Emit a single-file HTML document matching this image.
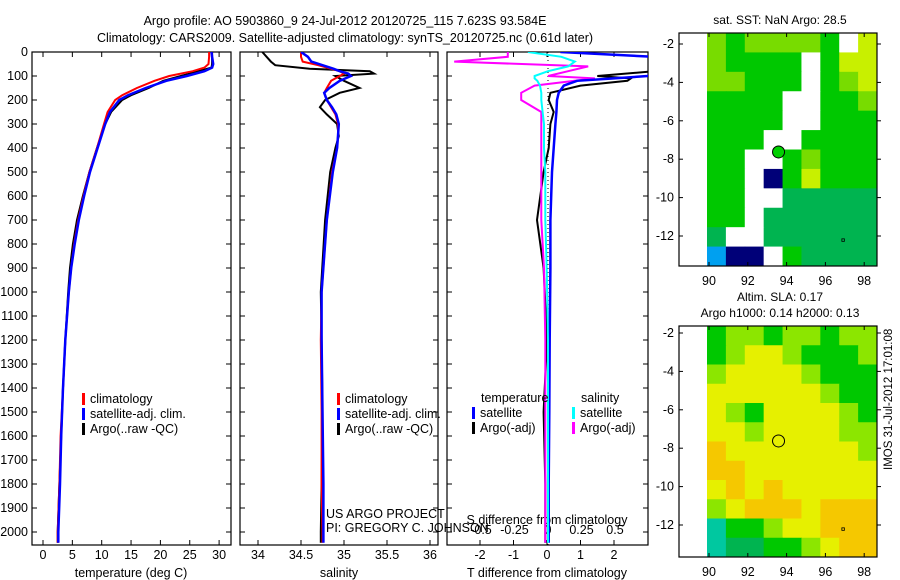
<!DOCTYPE html>
<html><head><meta charset="utf-8"><style>
body{margin:0;background:#fff;}
svg{display:block;font-family:"Liberation Sans",sans-serif;}
text{font-size:12.5px;fill:#000;}
</style></head><body>
<svg id="fig" width="900" height="580" viewBox="0 0 900 580">
<text x="345" y="25" text-anchor="middle">Argo profile: AO 5903860_9 24-Jul-2012 20120725_115 7.623S 93.584E</text>
<text x="345" y="42" text-anchor="middle">Climatology: CARS2009. Satellite-adjusted climatology: synTS_20120725.nc (0.61d later)</text>
<g id="p1"></g>
<g id="p2"></g>
<g id="p3"></g>
<g id="m1"></g>
<g id="m2"></g>
<text x="892" y="470" transform="rotate(-90 892 470)" style="font-size:11.5px">IMOS 31-Jul-2012 17:01:08</text>
</svg>
<script>
// ---- data ----
const tDepth=[0,20,50,65,80,100,120,150,180,200,250,300,400,500,600,700,800,900,1000,1200,1400,1600,1800,2000,2045];
const tClim=[28.3,28.3,28.2,27.5,25.5,21.5,19,16,13.5,12.3,11,10.4,9.2,7.9,6.9,6,5.3,4.8,4.4,3.8,3.4,3.0,2.8,2.5,2.5];
const tSat=[28.7,28.8,29,28.8,27.5,24.5,21,17.5,14.5,13,11.4,10.6,9.3,8,7,6.1,5.4,4.8,4.4,3.8,3.4,3.1,2.9,2.6,2.6];
const tArgo=[28.8,28.8,28.8,28.7,26.5,23.5,20.5,18,15,13.5,11.6,10.6,9.2,7.9,6.8,5.8,5.1,4.6,4.3,3.8,3.4,3.1,2.8,2.5,2.5];
const sDepth=[0,20,40,55,70,80,90,100,120,150,170,200,230,260,300,350,400,500,700,1000,1200,1500,1800,2000,2045];
const sClim=[34.5,34.5,34.52,34.7,34.85,34.95,35.0,34.95,34.85,34.8,34.77,34.8,34.85,34.9,34.93,34.93,34.92,34.86,34.8,34.74,34.73,34.74,34.74,34.75,34.75];
const sSat=[34.5,34.58,34.62,34.75,34.88,34.95,35.05,35.08,34.95,34.83,34.77,34.8,34.86,34.91,34.94,34.93,34.92,34.87,34.8,34.74,34.74,34.75,34.76,34.76,34.76];
const sArgo=[34.05,34.1,34.15,34.2,34.6,35.3,35.35,34.9,35.0,35.18,34.95,34.78,34.72,34.8,34.92,34.94,34.9,34.84,34.78,34.73,34.74,34.75,34.74,34.73,34.73];
const dDepth=[0,20,40,60,80,100,110,120,140,170,200,250,300,400,500,700,900,1200,1500,1800,2045];
const dTsat=[0.4,3.2,3.2,3.2,3.2,3.0,2.0,0.9,0.5,0.35,0.3,0.28,0.25,0.2,0.15,0.1,0.1,0.08,0.07,0.05,0.05];
const dTargo=[null,null,null,3.2,3.2,1.5,2.5,2.4,1.0,0.1,0.05,0.2,0.1,0.05,-0.1,-0.3,-0.1,0.0,-0.1,-0.05,-0.05];
const dSsat=[-0.15,0.1,0.2,0.15,0.0,-0.1,-0.1,-0.08,-0.06,-0.05,-0.05,-0.04,-0.03,-0.03,-0.02,-0.02,-0.01,0.0,0.0,0.0,0.0];
const dSargo=[-0.3,-0.3,-0.7,0.3,0.15,0.0,0.35,0.2,-0.1,-0.2,-0.2,-0.05,-0.05,-0.05,-0.05,-0.05,-0.03,-0.02,-0.02,-0.02,-0.02];
const depthTicks=[0,100,200,300,400,500,600,700,800,900,1000,1100,1200,1300,1400,1500,1600,1700,1800,1900,2000];
const tTicks=[0,5,10,15,20,25,30];
const sTicks=[34,34.5,35,35.5,36];
const dTTicks=[-2,-1,0,1,2];
const dSTicks=[-0.5,-0.25,0,0.25,0.5];
const sstGrid=["LGLLLLGWY","LGGGGWGYY","LLGGGWGLY","GGGGWWGGL","GGGGWWGGG","GGGWWGGGG","GGWWGLGGG","GGWNGYGGG","GGWWDDDDD","GGWDDDDDD","DWWDDDDDD","BNNWGDDDD"];
const slaGrid=["GLLGLLGLL","GLYYLGGGL","LYYYYLGGG","YYYYYYLGG","YLGYYYYLG","YYLYYYYLL","OYYYYYYYL","OOYYYYYYY","YOYOYYYYY","LYOOOYOOO","CGGLYYOOO","CDDGGLYOO"];
const lonTicks=[90,92,94,96,98];
const latTicks=[-2,-4,-6,-8,-10,-12];
const argoLon=93.584, argoLat=-7.623;

const NS="http://www.w3.org/2000/svg";
function mk(p,tag,at){const e=document.createElementNS(NS,tag);for(const k in at)e.setAttribute(k,at[k]);p.appendChild(e);return e;}
const Y0=52,Y1=545;
const yD=d=>Y0+d*0.24;

function axesBox(g,x0,x1,left){
  const r=mk(g,'rect',{x:x0,y:Y0,width:x1-x0,height:Y1-Y0,fill:'none',stroke:'#000','stroke-width':1.2});
  
  depthTicks.forEach(d=>{
    mk(g,'line',{x1:x0,x2:x0+5,y1:yD(d),y2:yD(d),stroke:'#000'});
    mk(g,'line',{x1:x1,x2:x1-5,y1:yD(d),y2:yD(d),stroke:'#000'});
    if(left){const t=mk(g,'text',{x:x0-4,y:yD(d)+4,'text-anchor':'end'});t.textContent=d;
      }
  });
}
function xTicks(g,ticks,fx,y){
  ticks.forEach(v=>{mk(g,'line',{x1:fx(v),x2:fx(v),y1:Y1,y2:Y1-5,stroke:'#000'});mk(g,'line',{x1:fx(v),x2:fx(v),y1:Y0,y2:Y0+5,stroke:'#000'});
    const t=mk(g,'text',{x:fx(v),y:y,'text-anchor':'middle'});t.textContent=v;
    });
}
function line(g,xs,ds,fx,col,w,name){
  let p='';let pen=false;
  xs.forEach((v,i)=>{if(v===null){pen=false;return;}p+=(pen?'L':'M')+fx(v).toFixed(1)+','+yD(ds[i]).toFixed(1);pen=true;});
  const e=mk(g,'path',{d:p,fill:'none',stroke:col,'stroke-width':w});
  
}
function clipFor(g,id,x0,x1){const c=mk(g,'clipPath',{id:id});mk(c,'rect',{x:x0,y:Y0,width:x1-x0,height:Y1-Y0});const h=mk(g,'g',{'clip-path':'url(#'+id+')'});return h;}
function legend(g,x,y,items){
  items.forEach((it,i)=>{mk(g,'rect',{x:x,y:y+i*15-10,width:3,height:12,fill:it[1]});
    const t=mk(g,'text',{x:x+8,y:y+i*15});t.textContent=it[0];
    });
}
// panel 1
const p1=document.getElementById('p1');
const fT=v=>43+v*5.87;
axesBox(p1,32,231,true);xTicks(p1,tTicks,fT,559);
let c1=clipFor(p1,'c1',32,231);
line(c1,tArgo,tDepth,fT,'#000',2,'argo-temperature-line');
line(c1,tClim,tDepth,fT,'#f00',2,'climatology-temperature-line');
line(c1,tSat,tDepth,fT,'#00f',2.5,'satellite-temperature-line');
let t=mk(p1,'text',{x:131,y:577,'text-anchor':'middle'});t.textContent='temperature (deg C)';
legend(p1,82,403,[['climatology','#f00'],['satellite-adj. clim.','#00f'],['Argo(..raw -QC)','#000']]);
// panel 2
const p2=document.getElementById('p2');
const fS=v=>258+(v-34)*86;
axesBox(p2,240,438,false);xTicks(p2,sTicks,fS,559);
let c2=clipFor(p2,'c2',240,438);
line(c2,sArgo,sDepth,fS,'#000',2,'argo-salinity-line');
line(c2,sClim,sDepth,fS,'#f00',2,'climatology-salinity-line');
line(c2,sSat,sDepth,fS,'#00f',2.5,'satellite-salinity-line');
t=mk(p2,'text',{x:339,y:577,'text-anchor':'middle'});t.textContent='salinity';
legend(p2,337,403,[['climatology','#f00'],['satellite-adj. clim.','#00f'],['Argo(..raw -QC)','#000']]);
t=mk(p2,'text',{x:326,y:518});t.textContent='US ARGO PROJECT';
t=mk(p2,'text',{x:326,y:532});t.textContent='PI: GREGORY C. JOHNSON';
// panel 3
const p3=document.getElementById('p3');
const fdT=v=>547+v*33.5, fdS=v=>548+v*134;
axesBox(p3,447,648,false);xTicks(p3,dTTicks,fdT,559);
dSTicks.forEach(v=>{const tt=mk(p3,'text',{x:fdS(v),y:534,'text-anchor':'middle'});tt.textContent=v;});
t=mk(p3,'text',{x:547,y:524,'text-anchor':'middle'});t.textContent='S difference from climatology';
mk(p3,'line',{x1:548,x2:548,y1:Y0,y2:Y1,stroke:'#000','stroke-dasharray':'1,3'});
let c3=clipFor(p3,'c3',447,648);
line(c3,dTargo,dDepth,fdT,'#000',2,'argo-t-difference-line');
line(c3,dSargo,dDepth,fdS,'#f0f',2,'argo-s-difference-line');
line(c3,dTsat,dDepth,fdT,'#00f',2.5,'satellite-t-difference-line');
line(c3,dSsat,dDepth,fdS,'#0ff',2,'satellite-s-difference-line');
t=mk(p3,'text',{x:547,y:577,'text-anchor':'middle'});t.textContent='T difference from climatology';
t=mk(p3,'text',{x:481,y:402});t.textContent='temperature';
t=mk(p3,'text',{x:581,y:402});t.textContent='salinity';
legend(p3,472,417,[['satellite','#00f'],['Argo(-adj)','#000']]);
legend(p3,572,417,[['satellite','#0ff'],['Argo(-adj)','#f0f']]);
// maps
const cols={G:'#00c800',D:'#00b450',L:'#78dc00',Y:'#c8f000',W:'#fff',N:'#000078',C:'#00c8a0',B:'#00a0f0',O:'#f0c800'};
const colsSla={G:'#00c800',D:'#00b450',L:'#8ce600',Y:'#e6f000',C:'#00c8a0',O:'#f5c800'};
function map(id,top,bot,lat12,grid,pal,title,fill){
  const g=document.getElementById(id);
  const BX0=679,X0=707,X1=877;
  const cw=(X1-X0)/grid[0].length,ch=(bot-top)/grid.length;
  grid.forEach((row,r)=>[...row].forEach((k,c)=>{const e=mk(g,'rect',{x:X0+c*cw,y:top+r*ch,width:cw+0.5,height:ch+0.5,fill:pal[k]});
    }));
  mk(g,'rect',{x:BX0,y:top,width:X1-BX0,height:bot-top,fill:'none',stroke:'#000','stroke-width':1.2});
  const fx=lo=>709+(lo-90)*19.4, fy=la=>lat12-(la+12)*19.2;
  lonTicks.forEach(v=>{mk(g,'line',{x1:fx(v),x2:fx(v),y1:bot,y2:bot-4,stroke:'#000'});mk(g,'line',{x1:fx(v),x2:fx(v),y1:top,y2:top+4,stroke:'#000'});
    const tt=mk(g,'text',{x:fx(v),y:bot+19,'text-anchor':'middle'});tt.textContent=v;});
  latTicks.forEach(v=>{mk(g,'line',{x1:BX0,x2:BX0+4,y1:fy(v),y2:fy(v),stroke:'#000'});mk(g,'line',{x1:X1,x2:X1+4,y1:fy(v),y2:fy(v),stroke:'#000'});
    const tt=mk(g,'text',{x:BX0-5,y:fy(v)+4,'text-anchor':'end'});tt.textContent=v;});
  const m=mk(g,'circle',{cx:fx(argoLon),cy:fy(argoLat),r:6,fill:fill,stroke:'#000'});
  
  mk(g,'rect',{x:fx(96.9)-1,y:fy(-12.2)-1,width:2.5,height:2.5,fill:'none',stroke:'#000','stroke-width':0.8});
  title.forEach((s,i)=>{const tt=mk(g,'text',{x:780,y:top-9+i*16-(title.length-1)*16,'text-anchor':'middle','style':'font-size:12px'});tt.textContent=s;
    });
}
map('m1',33,266,236,sstGrid,cols,['sat. SST: NaN Argo: 28.5'],'#00d000');
map('m2',326,557,525,slaGrid,colsSla,['Altim. SLA: 0.17','Argo h1000: 0.14 h2000: 0.13'],'none');
</script>
</body></html>
